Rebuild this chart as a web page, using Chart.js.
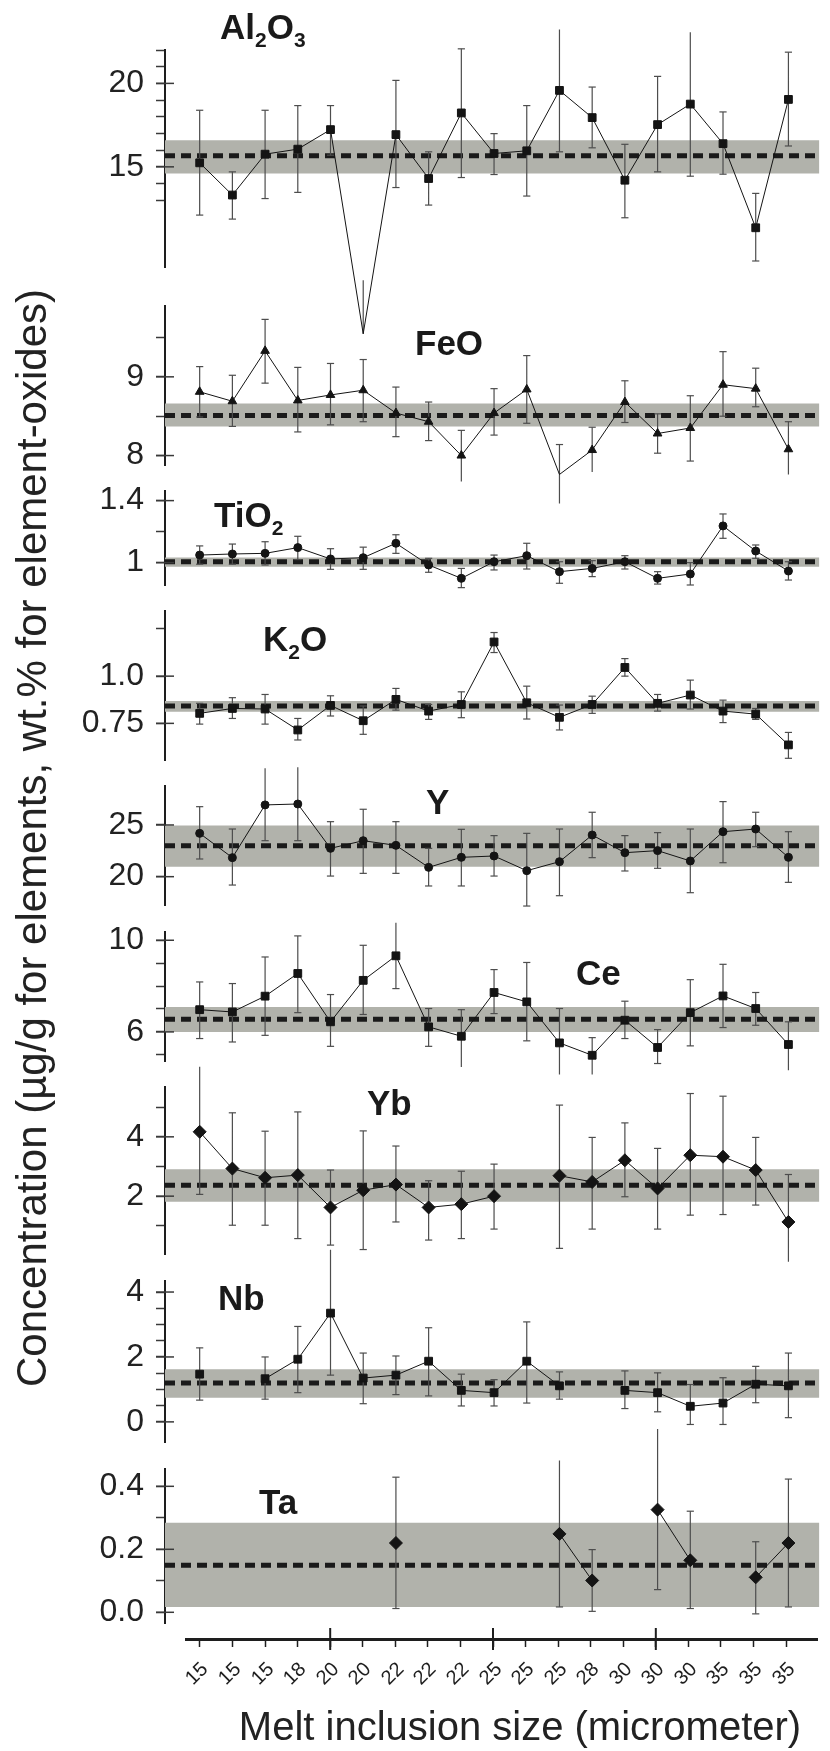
<!DOCTYPE html>
<html>
<head>
<meta charset="utf-8">
<script src="https://cdn.jsdelivr.net/npm/chart.js@4.4.1/dist/chart.umd.min.js"></script>
<style>
html,body{margin:0;padding:0;background:#fff;}
#wrap{position:relative;width:830px;height:1751px;overflow:hidden;font-family:'Liberation Sans',Arial,sans-serif;color:#1f1f1f;}
canvas.layer{position:absolute;left:0;top:0;}
.lbl{position:absolute;font-weight:bold;font-size:35px;line-height:1;white-space:nowrap;color:#1a1a1a;}
.lbl sub{font-size:0.6em;vertical-align:-8px;line-height:0;}
.ytitle{position:absolute;left:32px;top:838px;transform:translate(-50%,-50%) rotate(-90deg);font-size:42px;line-height:1;white-space:nowrap;color:#222;}
.xtitle{position:absolute;left:520px;top:1706px;transform:translateX(-50%);font-size:40px;line-height:1;white-space:nowrap;color:#222;}
.xtick{position:absolute;transform:translate(-50%,-50%) rotate(-45deg);font-size:20px;line-height:1;white-space:nowrap;color:#1e1e1e;}
</style>
</head>
<body>
<div id="wrap"></div>
<script>
// ---------- DATA ----------
const categories = ['15','15','15','18','20','20','22','22','22','25','25','25','28','30','30','30','35','35','35'];
const panelNames = ['Al2O3','FeO','TiO2','K2O','Y','Ce','Yb','Nb','Ta'];

const al2o3   = [15.24,13.31,15.76,16.06,17.23,5.0,16.93,14.30,18.23,15.80,15.96,19.58,17.95,14.20,17.53,18.76,16.39,11.35,19.04];
const al2o3Hi = [18.39,14.70,18.39,18.67,18.67,8.2,20.18,15.90,22.07,16.99,18.67,23.23,19.78,16.35,20.42,23.07,18.29,13.41,21.87];
const al2o3Lo = [12.11,11.87,13.10,13.47,15.70,5.0,13.76,12.71,14.36,14.54,13.25,15.90,16.14,11.95,14.70,14.44,14.56,9.36,16.25];
const al2o3Band = [15.66, 14.60, 16.59]; // mean, low, high
const al2o3Ticks = [13,14,15,16,17,18,19,20,21,22];
const al2o3TickLabels = ['15','20'];

const feo   = [8.81,8.69,9.33,8.70,8.77,8.83,8.54,8.43,8.00,8.54,8.84,7.76,8.07,8.68,8.28,8.35,8.90,8.85,8.08];
const feoHi = [9.13,9.02,9.73,9.12,9.17,9.22,8.87,8.68,8.32,8.85,9.27,8.14,8.36,8.95,8.53,8.76,9.32,9.11,8.43];
const feoLo = [8.49,8.37,8.92,8.30,8.39,8.43,8.24,8.19,7.67,8.26,8.41,7.39,7.79,8.42,8.03,7.93,8.50,8.62,7.76];
const feoBand = [8.51, 8.37, 8.66];
const feoTicks = [8,8.5,9,9.5];
const feoTickLabels = ['8','9'];

const tio2   = [1.049,1.056,1.060,1.097,1.024,1.032,1.125,0.985,0.899,1.006,1.045,0.942,0.963,1.006,0.899,0.927,1.237,1.075,0.946];
const tio2Hi = [1.108,1.120,1.135,1.170,1.090,1.100,1.180,1.028,0.963,1.049,1.125,1.006,1.013,1.045,0.942,1.000,1.314,1.114,1.006];
const tio2Lo = [0.990,0.990,0.985,1.020,0.957,0.957,1.060,0.938,0.839,0.953,0.959,0.867,0.910,0.959,0.862,0.856,1.157,1.028,0.888];
const tio2Band = [1.006, 0.974, 1.034];
const tio2Ticks = [1.0,1.2,1.4];
const tio2TickLabels = ['1','1.4'];

const k2o   = [0.803,0.829,0.826,0.715,0.845,0.764,0.877,0.815,0.850,1.181,0.859,0.782,0.850,1.046,0.856,0.900,0.815,0.799,0.636];
const k2oHi = [0.856,0.886,0.903,0.776,0.896,0.842,0.935,0.850,0.917,1.231,0.947,0.847,0.894,1.093,0.903,0.979,0.873,0.829,0.702];
const k2oLo = [0.746,0.776,0.746,0.662,0.789,0.692,0.820,0.771,0.780,1.125,0.773,0.715,0.803,1.000,0.815,0.826,0.754,0.771,0.565];
const k2oBand = [0.842, 0.812, 0.868];
const k2oTicks = [0.75,1.0,1.25];
const k2oTickLabels = ['0.75','1.0'];

const yVals = [24.19,21.84,26.94,27.03,22.74,23.48,23.03,20.90,21.87,22.00,20.58,21.45,24.03,22.32,22.52,21.52,24.35,24.61,21.87];
const yHi   = [26.77,24.61,30.48,30.58,25.32,26.52,25.32,22.74,24.58,23.97,24.19,24.61,26.23,23.97,24.26,24.61,27.26,26.23,24.35];
const yLo   = [21.71,19.19,23.48,23.48,20.06,20.32,20.32,19.10,19.10,20.06,17.16,18.16,21.84,20.55,20.81,18.45,21.35,22.90,19.45];
const yBand = [23.0, 20.97, 24.94];
const yTicks = [20,25];
const yTickLabels = ['20','25'];

const ce   = [6.97,6.87,7.56,8.55,6.44,8.25,9.32,6.22,5.81,7.72,7.31,5.52,4.98,6.51,5.32,6.84,7.57,7.02,5.45];
const ceHi = [8.18,8.11,9.27,10.19,7.63,9.78,10.76,7.02,6.97,8.72,9.03,7.02,5.75,7.34,6.10,8.28,8.95,7.72,6.44];
const ceLo = [5.71,5.56,5.85,6.84,5.37,6.76,7.89,5.37,4.47,6.80,5.61,4.14,4.14,5.71,4.62,5.39,6.19,6.29,4.33];
const ceBand = [6.55, 6.00, 7.09];
const ceTicks = [5,6,7,8,9,10];
const ceTickLabels = ['6','10'];

const yb   = [4.17,2.93,2.62,2.71,1.62,2.20,2.39,1.62,1.73,2.00,null,2.69,2.48,3.21,2.26,3.38,3.33,2.88,1.13];
const ybHi = [6.36,4.81,4.19,4.84,2.88,4.20,3.69,2.52,2.84,3.08,null,5.07,3.98,4.47,3.61,5.46,5.37,3.98,2.73];
const ybLo = [2.06,1.02,1.02,0.57,0.35,0.20,1.13,0.52,0.57,0.89,null,0.24,0.89,1.98,0.89,1.36,1.38,1.70,-0.21];
const ybBand = [2.37, 1.81, 2.91];
const ybTicks = [1,2,3,4,5];
const ybTickLabels = ['2','4'];

const nb   = [1.47,null,1.33,1.93,3.35,1.35,1.44,1.87,0.97,0.90,1.87,1.11,null,0.97,0.90,0.48,0.58,1.16,1.11];
const nbHi = [2.28,null,2.00,2.94,5.30,2.12,2.03,2.90,1.47,1.30,3.08,1.54,null,1.57,1.51,1.15,1.36,1.71,2.12];
const nbLo = [0.67,null,0.70,0.90,1.44,0.56,0.84,0.80,0.49,0.49,0.58,0.70,null,0.41,0.31,-0.08,-0.08,0.59,0.13];
const nbBand = [1.20, 0.74, 1.62];
const nbTicks = [0,0.5,1,1.5,2,2.5,3,3.5,4];
const nbTickLabels = ['0','2','4'];

const ta   = [null,null,null,null,null,null,0.220,null,null,null,null,0.249,0.101,null,0.326,0.165,null,0.111,0.220];
const taHi = [null,null,null,null,null,null,0.429,null,null,null,null,0.482,0.199,null,0.582,0.321,null,0.224,0.423];
const taLo = [null,null,null,null,null,null,0.012,null,null,null,null,0.017,0.003,null,0.072,0.012,null,-0.005,0.017];
const taBand = [0.149, 0.017, 0.284];
const taTicks = [0,0.1,0.2,0.3,0.4];
const taTickLabels = ['0.0','0.2','0.4'];

// ---------- LAYOUT / STYLE ----------
const W = 830, H = 1751;
const X_MIN = -1.06, X_MAX = 18.95;
const PLOT_LEFT = 165, AXIS_LEFT = 186, AXIS_Y = 1639;
const BAND = '#b1b2ab', INK = '#141414', ERR = '#4d4d4d';
const FONT = "'Liberation Sans', Arial, sans-serif";

const panels = [
  {vals:al2o3, hi:al2o3Hi, lo:al2o3Lo, band:al2o3Band, ticks:al2o3Ticks, tl:al2o3TickLabels, top:50,  bottom:267,  min:9,     max:22,    style:'rect',     r:5.5, lx:220, ly:26},
  {vals:feo,   hi:feoHi,   lo:feoLo,   band:feoBand,   ticks:feoTicks,   tl:feoTickLabels,   top:306, bottom:465,  min:7.88,  max:9.9,   style:'triangle', r:5,   lx:415, ly:342},
  {vals:tio2,  hi:tio2Hi,  lo:tio2Lo,  band:tio2Band,  ticks:tio2Ticks,  tl:tio2TickLabels,  top:491, bottom:585,  min:0.856, max:1.462, style:'circle',   r:4,   lx:214, ly:514},
  {vals:k2o,   hi:k2oHi,   lo:k2oLo,   band:k2oBand,   ticks:k2oTicks,   tl:k2oTickLabels,   top:611, bottom:760,  min:0.556, max:1.345, style:'rect',     r:5.5, lx:263, ly:638},
  {vals:yVals, hi:yHi,     lo:yLo,     band:yBand,     ticks:yTicks,     tl:yTickLabels,     top:786, bottom:905,  min:17.26, max:28.77, style:'circle',   r:4,   lx:426, ly:801},
  {vals:ce,    hi:ceHi,    lo:ceLo,    band:ceBand,    ticks:ceTicks,    tl:ceTickLabels,    top:932, bottom:1061, min:4.73,  max:10.36, style:'rect',     r:5.5, lx:576, ly:972},
  {vals:yb,    hi:ybHi,    lo:ybLo,    band:ybBand,    ticks:ybTicks,    tl:ybTickLabels,    top:1087,bottom:1254, min:0.05,  max:5.68,  style:'rectRot',  r:6.5, lx:367, ly:1102},
  {vals:nb,    hi:nbHi,    lo:nbLo,    band:nbBand,    ticks:nbTicks,    tl:nbTickLabels,    top:1281,bottom:1442, min:-0.62, max:4.34,  style:'rect',     r:5.5, lx:218, ly:1297},
  {vals:ta,    hi:taHi,    lo:taLo,    band:taBand,    ticks:taTicks,    tl:taTickLabels,    top:1469,bottom:1623, min:-0.034,max:0.455, style:'rectRot',  r:6.5, lx:259, ly:1501}
];

const wrap = document.getElementById('wrap');

function newCanvas() {
  const c = document.createElement('canvas');
  c.width = W; c.height = H; c.className = 'layer';
  wrap.appendChild(c);
  return c;
}

function labelFor(p, v) {
  for (const t of p.tl) { if (Math.abs(parseFloat(t) - v) < 1e-9) return t; }
  return '';
}

function buildPanel(p) {
  const line = p.vals.map((v, i) => ({x: i, y: v}));
  const bars = [], caps = [];
  p.vals.forEach((v, i) => {
    const lo = p.lo[i], hi = p.hi[i];
    if (lo == null || hi == null) return;
    bars.push({x: i, y: lo}, {x: i, y: hi}, {x: i, y: null});
    caps.push({x: i, y: lo}, {x: i, y: hi});
  });
  const [mean, bLo, bHi] = p.band;
  const majorInner = p.tl.map(t => ({x: X_MIN, y: parseFloat(t)}));
  new Chart(newCanvas(), {
    type: 'line',
    data: {
      datasets: [
        {data: line, borderColor: INK, borderWidth: 1, pointStyle: p.style,
         pointRadius: ctx => (ctx.raw && ctx.raw.y != null && ctx.raw.y < p.min) ? 0 : p.r,
         pointBackgroundColor: INK, pointBorderColor: INK, pointBorderWidth: 1,
         spanGaps: false, clip: false, order: 0, tension: 0},
        {data: caps, showLine: false, pointStyle: 'line', pointRadius: 3.6, pointBorderWidth: 1.2,
         pointBorderColor: ERR, clip: false, order: 1},
        {data: bars, borderColor: ERR, borderWidth: 1.2, pointRadius: 0, spanGaps: false, clip: false, order: 2},
        {data: [{x: X_MIN, y: mean}, {x: X_MAX, y: mean}], borderColor: '#1a1a1a', borderWidth: 5,
         borderDash: [10, 6], pointRadius: 0, order: 3},
        {data: [{x: X_MIN, y: bHi}, {x: X_MAX, y: bHi}], borderWidth: 0, pointRadius: 0,
         fill: '+1', backgroundColor: BAND, order: 4},
        {data: [{x: X_MIN, y: bLo}, {x: X_MAX, y: bLo}], borderWidth: 0, pointRadius: 0,
         fill: false, order: 5},
        {data: majorInner, showLine: false, pointStyle: 'line', pointRadius: 9, pointBorderWidth: 1.5,
         pointBorderColor: '#3a3a3a', clip: false, order: -1}
      ]
    },
    options: {
      responsive: false, animation: false, events: [], devicePixelRatio: 1,
      layout: {padding: {left: 0, right: 0, top: p.top, bottom: H - p.bottom}},
      plugins: {legend: {display: false}, tooltip: {enabled: false}, title: {display: false}},
      scales: {
        x: {type: 'linear', display: false, min: X_MIN, max: X_MAX},
        y: {
          type: 'linear', min: p.min, max: p.max, bounds: 'data', grace: 0,
          afterFit: s => { s.width = PLOT_LEFT; },
          afterBuildTicks: s => { s.ticks = p.ticks.map(v => ({value: v})); },
          border: {display: true, color: '#1e1e1e', width: 2},
          grid: {drawOnChartArea: false, drawTicks: true, tickLength: 9, tickWidth: 1.5, tickColor: '#3a3a3a'},
          ticks: {autoSkip: false, padding: 12, color: '#222', font: {family: FONT, size: 32},
                  callback: v => labelFor(p, v)}
        }
      }
    }
  });
}

panels.forEach(buildPanel);

// ---------- X AXIS ----------
const majorIdx = categories.map((c, i) => i).filter(i => i % 5 === 4);
const axisChart = new Chart(newCanvas(), {
  type: 'line',
  data: {datasets: [
    {data: majorIdx.map(i => ({x: i, y: 0})), showLine: false, pointStyle: 'line', pointRotation: 90,
     pointRadius: 11, pointBorderWidth: 2, pointBorderColor: '#1e1e1e', clip: false}
  ]},
  options: {
    responsive: false, animation: false, events: [], devicePixelRatio: 1,
    layout: {padding: {left: AXIS_LEFT, right: 0, top: 1600, bottom: 0}},
    plugins: {legend: {display: false}, tooltip: {enabled: false}},
    scales: {
      y: {type: 'linear', display: false, min: 0, max: 1},
      x: {
        type: 'linear', position: 'bottom', bounds: 'data',
        min: X_MIN + (AXIS_LEFT - PLOT_LEFT) / ((W - PLOT_LEFT) / (X_MAX - X_MIN)), max: X_MAX,
        afterFit: s => { s.height = H - AXIS_Y; },
        afterBuildTicks: s => { s.ticks = categories.map((c, i) => ({value: i})); },
        border: {display: true, color: '#1e1e1e', width: 3},
        grid: {drawOnChartArea: false, drawTicks: true, tickLength: 8, tickWidth: 1.5, tickColor: '#1e1e1e'},
        ticks: {display: false}
      }
    }
  }
});

// category labels, placed at the axis scale's own pixel for each category
const xScale = axisChart.scales.x;
categories.forEach((c, i) => {
  const d = document.createElement('div');
  d.className = 'xtick';
  d.textContent = c;
  d.style.left = (xScale.getPixelForValue(i) - 3.5) + 'px';
  d.style.top = (xScale.top + 34) + 'px';
  wrap.appendChild(d);
});

// ---------- TEXT ----------
panels.forEach((p, k) => {
  const d = document.createElement('div');
  d.className = 'lbl';
  d.innerHTML = panelNames[k].replace(/(\d)/g, '<sub>$1</sub>');
  d.style.left = p.lx + 'px';
  d.style.top = (p.ly - 0.49 * 35) + 'px';
  wrap.appendChild(d);
});
const yt = document.createElement('div');
yt.className = 'ytitle';
yt.textContent = 'Concentration (µg/g for elements, wt.% for element-oxides)';
wrap.appendChild(yt);
const xt = document.createElement('div');
xt.className = 'xtitle';
xt.textContent = 'Melt inclusion size (micrometer)';
wrap.appendChild(xt);
</script>
</body>
</html>
